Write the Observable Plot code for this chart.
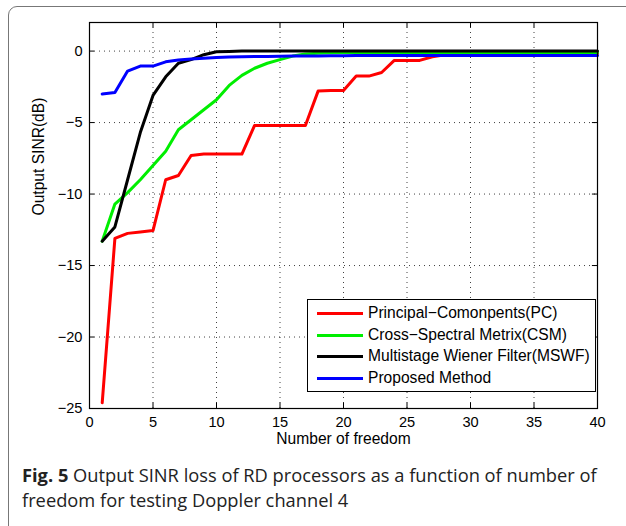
<!DOCTYPE html>
<html>
<head>
<meta charset="utf-8">
<script src="https://cdn.jsdelivr.net/npm/d3@7"></script>
<script src="https://cdn.jsdelivr.net/npm/@observablehq/plot@0.6"></script>
<style>
  html, body { margin: 0; padding: 0; background: #fff; }
  #wrap { position: relative; width: 626px; height: 526px; overflow: hidden; font-family: "Liberation Sans", Arial, sans-serif; }
  #border { position: absolute; left: 8px; top: 6px; width: 700px; height: 540px; border: 1.3px solid #777; border-radius: 9px; box-sizing: border-box; }
  #chart { position: absolute; left: 0; top: 0; }
  #legend { position: absolute; left: 307px; top: 299px; width: 289px; height: 93px; border: 1px solid #000; background: #fff; box-sizing: border-box; font-size: 15.6px; color: #000; }
  .entry { position: absolute; left: 0; height: 18px; line-height: 18px; white-space: nowrap; }
  .swatch { position: absolute; left: 9px; top: 8px; width: 46px; height: 3px; }
  .lbl { position: absolute; left: 60px; top: 0; }
  #caption { position: absolute; left: 22px; top: 462px; font-family: "Open Sans", sans-serif; font-size: 18.3px; line-height: 25px; color: #222; white-space: nowrap; }
</style>
</head>
<body>
<div id="wrap">
  <div id="border"></div>
  <div id="chart"></div>
  <div id="legend"></div>
  <div id="caption"><b>Fig. 5</b> Output SINR loss of RD processors as a function of number of<br>freedom for testing Doppler channel 4</div>
</div>
<script>
// Data
const freedom = [1,2,3,4,5,6,7,8,9,10,11,12,13,14,15,16,17,18,19,20,21,22,23,24,25,26,27,28,29,30,31,32,33,34,35,36,37,38,39,40];
const pc   = [-24.6,-13.1,-12.75,-12.65,-12.55,-9.0,-8.7,-7.3,-7.2,-7.2,-7.2,-7.2,-5.2,-5.2,-5.2,-5.2,-5.2,-2.8,-2.75,-2.75,-1.75,-1.75,-1.5,-0.65,-0.65,-0.65,-0.4,-0.25,-0.2,-0.18,-0.17,-0.17,-0.17,-0.17,-0.17,-0.17,-0.17,-0.17,-0.17,-0.17];
const csm  = [-13.3,-10.7,-9.9,-9.0,-8.0,-7.0,-5.5,-4.8,-4.1,-3.4,-2.4,-1.7,-1.2,-0.85,-0.6,-0.35,-0.2,-0.15,-0.12,-0.1,-0.1,-0.1,-0.1,-0.1,-0.1,-0.1,-0.1,-0.1,-0.1,-0.1,-0.1,-0.1,-0.1,-0.1,-0.1,-0.1,-0.1,-0.1,-0.1,-0.1];
const mswf = [-13.3,-12.3,-9.0,-5.7,-3.1,-1.8,-0.85,-0.6,-0.25,-0.05,-0.02,0,0,0,0,0,0,0,0,0,0,0,0,0,0,0,0,0,0,0,0,0,0,0,0,0,0,0,0,0];
const prop = [-3.0,-2.9,-1.4,-1.05,-1.05,-0.75,-0.62,-0.55,-0.5,-0.45,-0.42,-0.4,-0.38,-0.37,-0.36,-0.35,-0.35,-0.34,-0.33,-0.32,-0.3,-0.3,-0.3,-0.3,-0.3,-0.3,-0.3,-0.3,-0.3,-0.3,-0.3,-0.3,-0.3,-0.3,-0.3,-0.3,-0.3,-0.3,-0.3,-0.3];
const seriesNames = ["Principal\u2212Comonpents(PC)", "Cross\u2212Spectral Metrix(CSM)", "Multistage Wiener Filter(MSWF)", "Proposed Method"];
const seriesColors = ["#ff0000", "#00ee00", "#000000", "#0000ff"];
const xTicks = [0,5,10,15,20,25,30,35,40];
const yTicks = [-25,-20,-15,-10,-5,0];
const xLabel = "Number of freedom";
const yLabel = "Output SINR(dB)";

const allSeries = [pc, csm, mswf, prop];
const rows = [];
allSeries.forEach((vals, si) => vals.forEach((v, i) => rows.push({x: freedom[i], y: v, s: seriesNames[si]})));

const xMin = 0, xMax = 40, yMin = -25, yMax = 2;

const chart = Plot.plot({
  width: 626,
  height: 450,
  marginLeft: 89,
  marginRight: 29,
  marginTop: 22,
  marginBottom: 42,
  style: {fontFamily: "Liberation Sans, Arial, sans-serif", fontSize: "14.6px", color: "#000", background: "transparent"},
  x: {domain: [xMin, xMax]},
  y: {domain: [yMin, yMax]},
  color: {domain: seriesNames, range: seriesColors},
  marks: [
    Plot.gridX(xTicks.filter(d => d > xMin && d < xMax), {stroke: "#000", strokeOpacity: 0.75, strokeWidth: 1, strokeDasharray: "1,4"}),
    Plot.gridY(yTicks.filter(d => d > yMin && d < yMax), {stroke: "#000", strokeOpacity: 0.75, strokeWidth: 1, strokeDasharray: "1,4"}),
    // inward ticks on all four sides
    Plot.ruleX(xTicks, {y1: yMin, y2: yMin + 0.38, stroke: "#000"}),
    Plot.ruleX(xTicks, {y1: yMax, y2: yMax - 0.38, stroke: "#000"}),
    Plot.ruleY(yTicks, {x1: xMin, x2: xMin + 0.4, stroke: "#000"}),
    Plot.ruleY(yTicks, {x1: xMax, x2: xMax - 0.4, stroke: "#000"}),
    Plot.line(rows, {x: "x", y: "y", z: "s", stroke: "s", strokeWidth: 3, strokeLinejoin: "round"}),
    Plot.frame({stroke: "#000", strokeWidth: 1.2}),
    Plot.axisX(xTicks, {tickSize: 0, tickPadding: 8, label: null}),
    Plot.axisY(yTicks, {tickSize: 0, tickPadding: 7, label: null}),
    Plot.text([xLabel], {frameAnchor: "bottom", lineAnchor: "middle", dy: 30, fontSize: 15.6, text: d => d}),
    Plot.text([yLabel], {frameAnchor: "left", dx: -51, rotate: -90, fontSize: 15.6, text: d => d})
  ]
});
document.getElementById("chart").appendChild(chart);

// legend
const legend = document.getElementById("legend");
seriesNames.forEach((name, i) => {
  const e = document.createElement("div");
  e.className = "entry";
  e.style.top = (4 + i * 21.7) + "px";
  e.style.width = "100%";
  e.innerHTML = `<div class="swatch" style="background:${seriesColors[i]}"></div><div class="lbl">${name}</div>`;
  legend.appendChild(e);
});
</script>
</body>
</html>
